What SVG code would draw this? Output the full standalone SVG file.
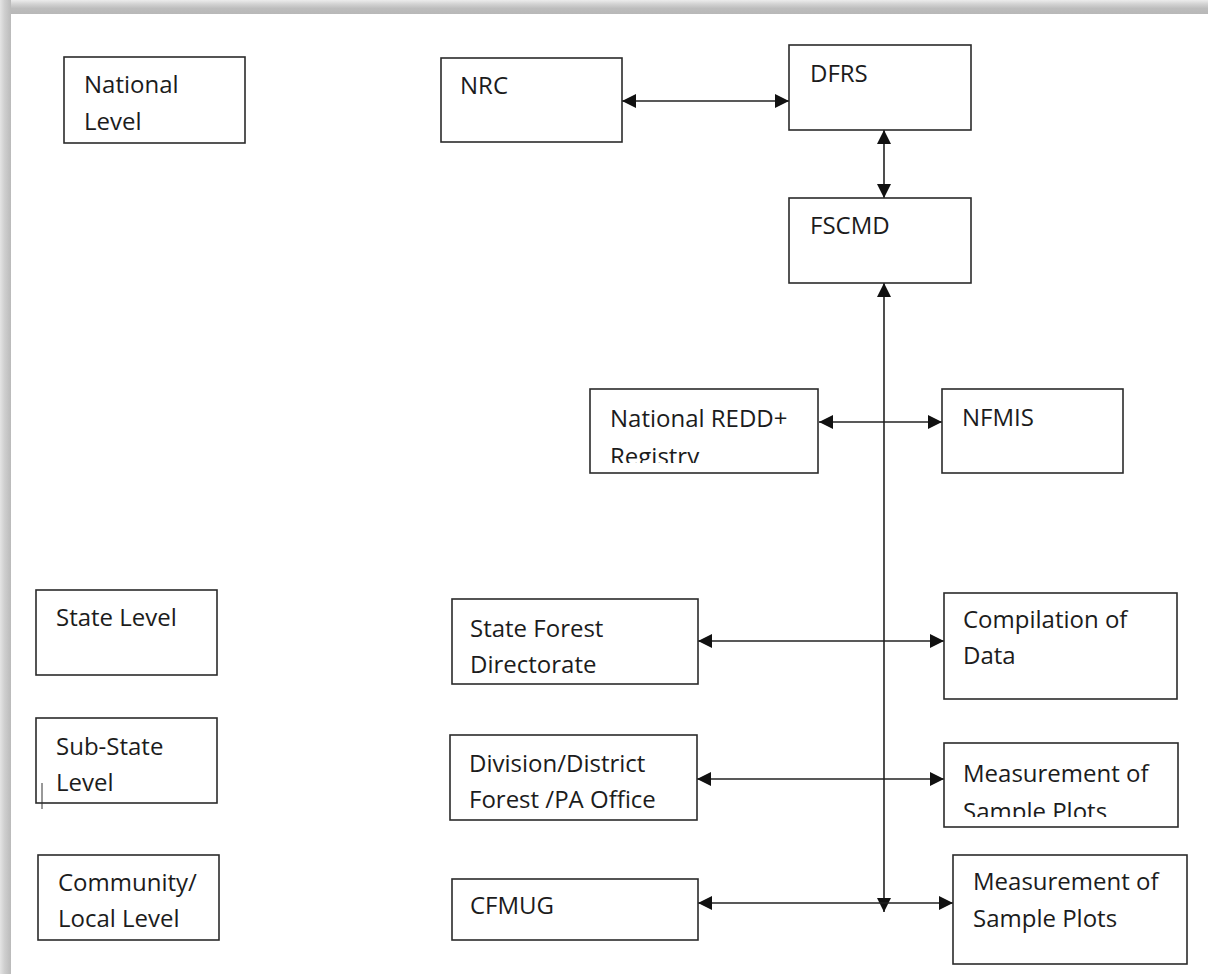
<svg xmlns="http://www.w3.org/2000/svg" width="1208" height="974" viewBox="0 0 1208 974">
<style>
.box{fill:#fff;stroke:#2b2b2b;stroke-width:1.6}
.t{font-family:"Open Sans","Noto Sans",sans-serif;font-size:24px;fill:#1c1c1c}
.c{stroke:#222;stroke-width:1.6;fill:none;marker-start:url(#ah);marker-end:url(#ah)}
</style>
<defs>
<marker id="ah" viewBox="0 0 14 14" refX="14" refY="7" markerWidth="14" markerHeight="14" markerUnits="userSpaceOnUse" orient="auto-start-reverse">
<path d="M0,0 L14,7 L0,14 z" fill="#111"/>
</marker>
<linearGradient id="gTop" x1="0" y1="0" x2="0" y2="1">
<stop offset="0" stop-color="#ececec"/>
<stop offset="0.3" stop-color="#d2d2d2"/>
<stop offset="0.6" stop-color="#bdbdbd"/>
<stop offset="1" stop-color="#b8b8b8"/>
</linearGradient>
<linearGradient id="gLeft" x1="0" y1="0" x2="1" y2="0">
<stop offset="0" stop-color="#e4e4e4"/>
<stop offset="0.4" stop-color="#cfcfcf"/>
<stop offset="1" stop-color="#bababa"/>
</linearGradient>
<clipPath id="clipRedd"><rect x="591" y="390" width="227" height="73"/></clipPath>
<clipPath id="clipMeas1"><rect x="945" y="744" width="232" height="73"/></clipPath>
</defs>
<rect width="1208" height="974" fill="#fff"/>
<rect x="0" y="0" width="1208" height="14" fill="url(#gTop)"/>
<rect x="0" y="0" width="11" height="974" fill="url(#gLeft)"/>

<g id="connectors">
<line class="c" x1="622" y1="101" x2="789" y2="101"/>
<line class="c" x1="884" y1="130" x2="884" y2="198"/>
<line class="c" x1="884" y1="283" x2="884" y2="912"/>
<line class="c" x1="819" y1="422" x2="942" y2="422"/>
<line class="c" x1="698" y1="641" x2="944" y2="641"/>
<line class="c" x1="697" y1="779" x2="944" y2="779"/>
<line class="c" x1="698" y1="903" x2="953" y2="903"/>
</g>

<g id="national-level">
<rect class="box" x="64" y="57" width="181" height="86"/>
<text class="t" x="84" y="93">National</text>
<text class="t" x="84" y="130">Level</text>
</g>
<g id="nrc">
<rect class="box" x="441" y="58" width="181" height="84"/>
<text class="t" x="460" y="94">NRC</text>
</g>
<g id="dfrs">
<rect class="box" x="789" y="45" width="182" height="85"/>
<text class="t" x="810" y="82">DFRS</text>
</g>
<g id="fscmd">
<rect class="box" x="789" y="198" width="182" height="85"/>
<text class="t" x="810" y="234">FSCMD</text>
</g>
<g id="national-redd-registry">
<rect class="box" x="590" y="389" width="228" height="84"/>
<g clip-path="url(#clipRedd)">
<text class="t" x="610" y="427">National REDD+</text>
<text class="t" x="610" y="465">Registry</text>
</g>
</g>
<g id="nfmis">
<rect class="box" x="942" y="389" width="181" height="84"/>
<text class="t" x="962" y="426">NFMIS</text>
</g>
<g id="state-level">
<rect class="box" x="36" y="590" width="181" height="85"/>
<text class="t" x="56" y="626">State Level</text>
</g>
<g id="sub-state-level">
<rect class="box" x="36" y="718" width="181" height="85"/>
<text class="t" x="56" y="755">Sub-State</text>
<text class="t" x="56" y="791">Level</text>
<line x1="42" y1="783" x2="42" y2="809" stroke="#333" stroke-width="1"/>
</g>
<g id="community-local-level">
<rect class="box" x="38" y="855" width="181" height="85"/>
<text class="t" x="58" y="891">Community/</text>
<text class="t" x="58" y="927">Local Level</text>
</g>
<g id="state-forest-directorate">
<rect class="box" x="452" y="599" width="246" height="85"/>
<text class="t" x="470" y="637">State Forest</text>
<text class="t" x="470" y="673">Directorate</text>
</g>
<g id="division-office">
<rect class="box" x="450" y="735" width="247" height="85"/>
<text class="t" x="469" y="772">Division/District</text>
<text class="t" x="469" y="808">Forest /PA Office</text>
</g>
<g id="cfmug">
<rect class="box" x="452" y="879" width="246" height="61"/>
<text class="t" x="470" y="914">CFMUG</text>
</g>
<g id="compilation-of-data">
<rect class="box" x="944" y="593" width="233" height="106"/>
<text class="t" x="963" y="628">Compilation of</text>
<text class="t" x="963" y="664">Data</text>
</g>
<g id="measurement-1">
<rect class="box" x="944" y="743" width="234" height="84"/>
<g clip-path="url(#clipMeas1)">
<text class="t" x="963" y="782">Measurement of</text>
<text class="t" x="963" y="820">Sample Plots</text>
</g>
</g>
<g id="measurement-2">
<rect class="box" x="953" y="855" width="234" height="109"/>
<text class="t" x="973" y="890">Measurement of</text>
<text class="t" x="973" y="927">Sample Plots</text>
</g>
</svg>
